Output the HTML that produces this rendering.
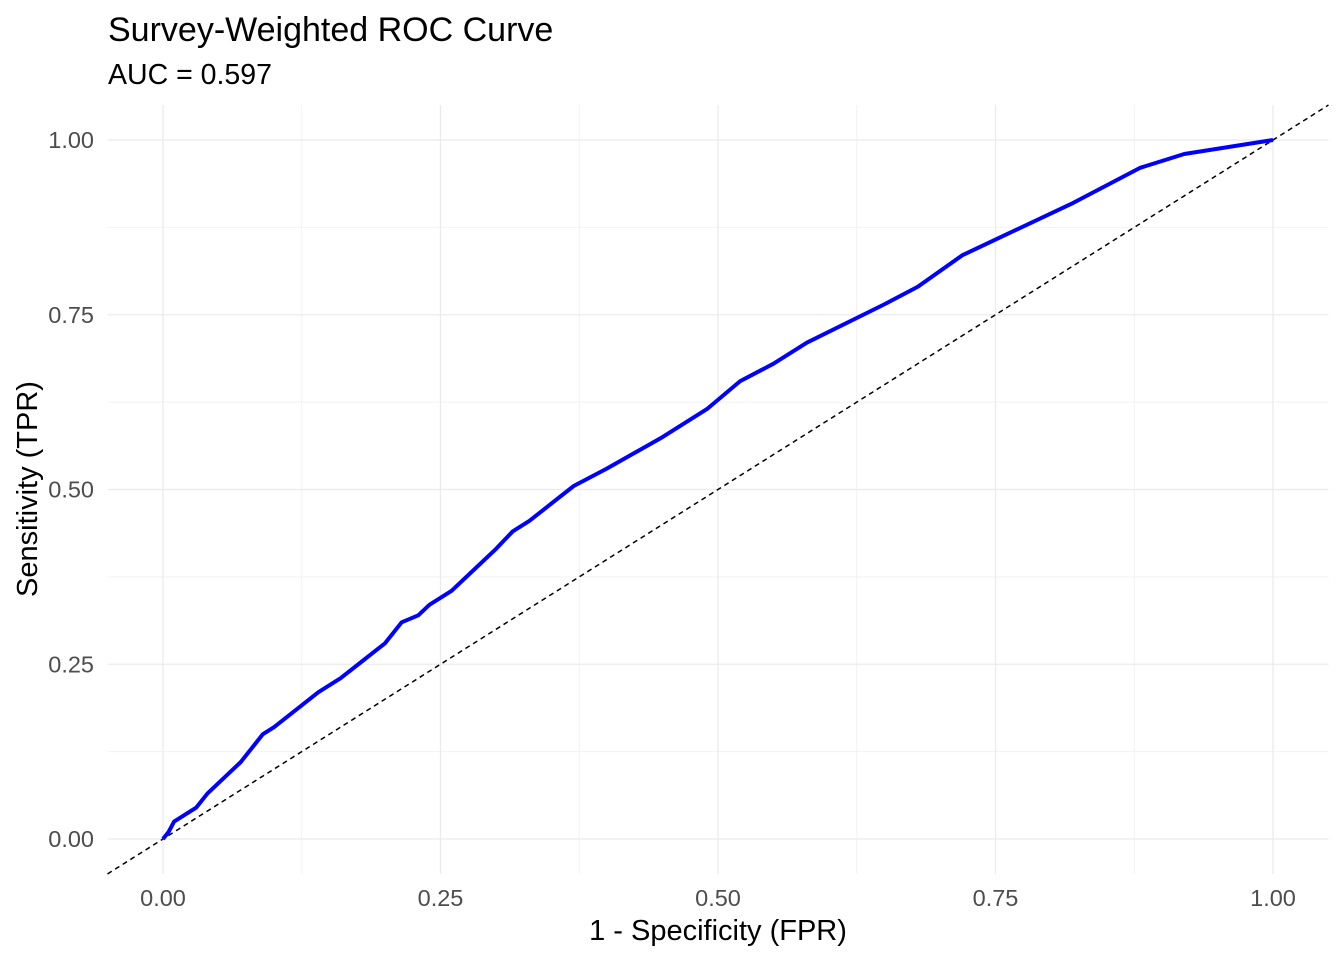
<!DOCTYPE html>
<html><head><meta charset="utf-8"><style>
body{margin:0;background:#fff;font-family:"Liberation Sans",Arial,sans-serif}
</style></head><body>
<svg id="chart" width="1344" height="960" xmlns="http://www.w3.org/2000/svg" font-family="Liberation Sans, Arial, sans-serif">
<text x="108" y="41" font-size="34" fill="#000">Survey-Weighted ROC Curve</text>
<text x="108" y="84" font-size="28.5" fill="#000">AUC = 0.597</text>
<g id="grid"></g>
<g id="ticks"></g>
<line id="diag" stroke="#000" stroke-width="1.5" stroke-dasharray="5,4"/>
<polyline id="roc" fill="none" stroke="#0000ff" stroke-width="4" stroke-linejoin="round"/>
<text x="718" y="940" font-size="29" text-anchor="middle" fill="#000">1 - Specificity (FPR)</text>
<text transform="translate(37,489) rotate(-90)" font-size="29" text-anchor="middle" fill="#000">Sensitivity (TPR)</text>
</svg>
<script>
const fpr=[0,0.005,0.01,0.02,0.03,0.04,0.05,0.06,0.07,0.08,0.09,0.1,0.12,0.14,0.16,0.18,0.2,0.215,0.23,0.24,0.26,0.28,0.3,0.315,0.33,0.35,0.37,0.4,0.45,0.49,0.52,0.55,0.58,0.65,0.68,0.72,0.76,0.82,0.88,0.92,0.96,1];
const tpr=[0,0.01,0.025,0.035,0.045,0.065,0.08,0.095,0.11,0.13,0.15,0.16,0.185,0.21,0.23,0.255,0.28,0.31,0.32,0.335,0.355,0.385,0.415,0.44,0.455,0.48,0.505,0.53,0.575,0.615,0.655,0.68,0.71,0.765,0.79,0.835,0.865,0.91,0.96,0.98,0.99,1];
const ticks=[0,0.25,0.5,0.75,1];
const tickLabels=["0.00","0.25","0.50","0.75","1.00"];
const minorTicks=[0.125,0.375,0.625,0.875];
const X=v=>163+v*1110, Y=v=>839-v*699;
const NS="http://www.w3.org/2000/svg";
const grid=document.getElementById('grid'), tk=document.getElementById('ticks');
function ln(x1,y1,x2,y2,w,c){const l=document.createElementNS(NS,'line');l.setAttribute('x1',x1);l.setAttribute('y1',y1);l.setAttribute('x2',x2);l.setAttribute('y2',y2);l.setAttribute('stroke',c);l.setAttribute('stroke-width',w);grid.appendChild(l);return l;}
minorTicks.forEach(v=>{
const a=ln(X(v),Y(1.05),X(v),Y(-0.05),1,'#f2f2f2');


const b=ln(X(-0.05),Y(v),X(1.05),Y(v),1,'#f2f2f2');


});
ticks.forEach((v,i)=>{
const a=ln(X(v),Y(1.05),X(v),Y(-0.05),1.3,'#ebebeb');


const b=ln(X(-0.05),Y(v),X(1.05),Y(v),1.3,'#ebebeb');


const tx=document.createElementNS(NS,'text');tx.setAttribute('x',X(v));tx.setAttribute('y',906);tx.setAttribute('text-anchor','middle');tx.setAttribute('font-size','23.5');tx.setAttribute('fill','#4d4d4d');tx.textContent=tickLabels[i];


tk.appendChild(tx);
const ty=document.createElementNS(NS,'text');ty.setAttribute('x',94);ty.setAttribute('y',Y(v)+8);ty.setAttribute('text-anchor','end');ty.setAttribute('font-size','23.5');ty.setAttribute('fill','#4d4d4d');ty.textContent=tickLabels[i];


tk.appendChild(ty);
});
const d=document.getElementById('diag');
d.setAttribute('x1',X(-0.05));d.setAttribute('y1',Y(-0.05));d.setAttribute('x2',X(1.05));d.setAttribute('y2',Y(1.05));
document.getElementById('roc').setAttribute('points',fpr.map((f,i)=>X(f)+','+Y(tpr[i])).join(' '));
</script>
</body></html>
